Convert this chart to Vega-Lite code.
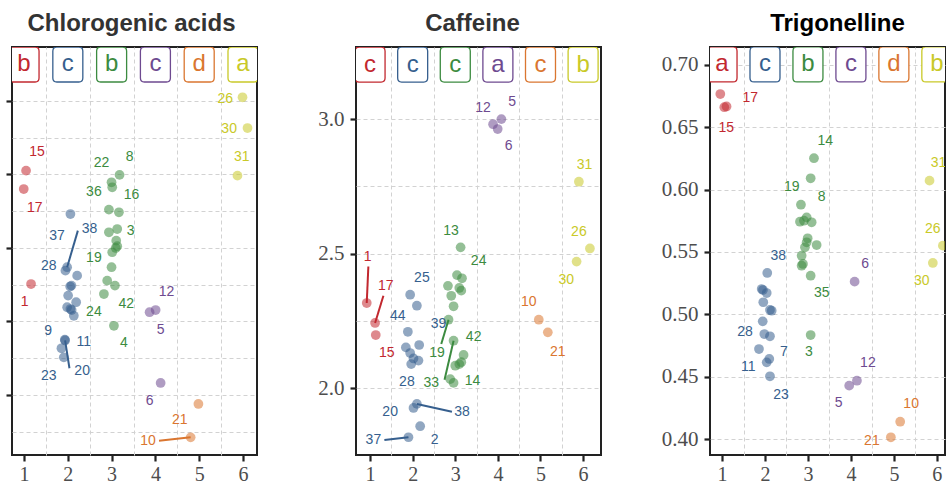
{
  "$schema": "https://vega.github.io/schema/vega-lite/v6.json",
  "background": "white",
  "padding": {"left": 3, "top": 11, "right": 0, "bottom": 0},
  "spacing": 58,
  "datasets": {
    "pts": [
      {"p":1,"g":1,"x":1.046,"y":6.526,"id":"15","lx":1.297,"ly":6.653},
      {"p":1,"g":1,"x":0.993,"y":6.401,"id":"17","lx":1.245,"ly":6.272},
      {"p":1,"g":1,"x":1.160,"y":5.755,"id":"1","lx":1.016,"ly":5.633},
      {"p":1,"g":2,"x":2.059,"y":6.231,"id":"37","lx":1.755,"ly":6.080},
      {"p":1,"g":2,"x":1.984,"y":5.869,"id":"38","lx":2.494,"ly":6.129,"sx":2.229,"sy":6.118},
      {"p":1,"g":2,"x":1.945,"y":5.846,"id":"28","lx":1.565,"ly":5.876},
      {"p":1,"g":2,"x":2.213,"y":5.812},
      {"p":1,"g":2,"x":2.082,"y":5.744},
      {"p":1,"g":2,"x":2.053,"y":5.738},
      {"p":1,"g":2,"x":2.007,"y":5.676},
      {"p":1,"g":2,"x":2.190,"y":5.631},
      {"p":1,"g":2,"x":1.984,"y":5.597},
      {"p":1,"g":2,"x":2.059,"y":5.585},
      {"p":1,"g":2,"x":2.087,"y":5.578},
      {"p":1,"g":2,"x":2.137,"y":5.539},
      {"p":1,"g":2,"x":1.931,"y":5.376,"id":"11","lx":2.366,"ly":5.358},
      {"p":1,"g":2,"x":1.938,"y":5.371,"id":"20","lx":2.327,"ly":5.165,"sx":2.037,"sy":5.182},
      {"p":1,"g":2,"x":1.854,"y":5.318,"id":"9","lx":1.549,"ly":5.437},
      {"p":1,"g":2,"x":1.908,"y":5.256,"id":"23","lx":1.565,"ly":5.131},
      {"p":1,"g":3,"x":3.181,"y":6.497,"id":"8","lx":3.410,"ly":6.617},
      {"p":1,"g":3,"x":2.998,"y":6.447,"id":"22","lx":2.769,"ly":6.578},
      {"p":1,"g":3,"x":3.014,"y":6.413,"id":"36","lx":2.595,"ly":6.379},
      {"p":1,"g":3,"x":2.938,"y":6.261},
      {"p":1,"g":3,"x":3.167,"y":6.243,"id":"16","lx":3.455,"ly":6.361},
      {"p":1,"g":3,"x":3.128,"y":6.129,"id":"3","lx":3.432,"ly":6.118},
      {"p":1,"g":3,"x":2.938,"y":6.107},
      {"p":1,"g":3,"x":3.105,"y":6.050},
      {"p":1,"g":3,"x":3.128,"y":6.012},
      {"p":1,"g":3,"x":3.094,"y":6.000},
      {"p":1,"g":3,"x":3.014,"y":5.971,"id":"19","lx":2.595,"ly":5.930},
      {"p":1,"g":3,"x":2.998,"y":5.869},
      {"p":1,"g":3,"x":2.899,"y":5.778},
      {"p":1,"g":3,"x":3.076,"y":5.744,"id":"42","lx":3.334,"ly":5.619},
      {"p":1,"g":3,"x":2.824,"y":5.687,"id":"24","lx":2.595,"ly":5.563},
      {"p":1,"g":3,"x":3.053,"y":5.471,"id":"4","lx":3.281,"ly":5.354},
      {"p":1,"g":4,"x":4.005,"y":5.578,"id":"12","lx":4.256,"ly":5.699},
      {"p":1,"g":4,"x":3.867,"y":5.563,"id":"5","lx":4.119,"ly":5.442},
      {"p":1,"g":4,"x":4.119,"y":5.082,"id":"6","lx":3.867,"ly":4.961},
      {"p":1,"g":5,"x":4.982,"y":4.939,"id":"21","lx":4.554,"ly":4.830},
      {"p":1,"g":5,"x":4.805,"y":4.712,"id":"10","lx":3.831,"ly":4.689,"sx":4.082,"sy":4.689},
      {"p":1,"g":6,"x":5.989,"y":7.025,"id":"26","lx":5.593,"ly":7.014},
      {"p":1,"g":6,"x":6.103,"y":6.816,"id":"30","lx":5.684,"ly":6.810},
      {"p":1,"g":6,"x":5.874,"y":6.492,"id":"31","lx":5.973,"ly":6.617},

      {"p":2,"g":1,"x":0.922,"y":2.316,"id":"1","lx":0.946,"ly":2.486,"sx":0.960,"sy":2.452},
      {"p":2,"g":1,"x":1.118,"y":2.242,"id":"17","lx":1.369,"ly":2.378,"sx":1.313,"sy":2.343},
      {"p":2,"g":1,"x":1.134,"y":2.197,"id":"15","lx":1.393,"ly":2.130},
      {"p":2,"g":2,"x":1.941,"y":2.347,"id":"25","lx":2.216,"ly":2.408},
      {"p":2,"g":2,"x":2.099,"y":2.306},
      {"p":2,"g":2,"x":1.887,"y":2.209,"id":"44","lx":1.652,"ly":2.267},
      {"p":2,"g":2,"x":2.153,"y":2.160,"id":"39","lx":2.607,"ly":2.238},
      {"p":2,"g":2,"x":1.840,"y":2.151},
      {"p":2,"g":2,"x":1.941,"y":2.130},
      {"p":2,"g":2,"x":2.019,"y":2.110},
      {"p":2,"g":2,"x":1.965,"y":2.089,"id":"28","lx":1.864,"ly":2.021},
      {"p":2,"g":2,"x":2.136,"y":2.102},
      {"p":2,"g":2,"x":2.099,"y":1.941,"id":"38","lx":3.158,"ly":1.912,"sx":2.922,"sy":1.912},
      {"p":2,"g":2,"x":2.019,"y":1.926,"id":"20","lx":1.471,"ly":1.912},
      {"p":2,"g":2,"x":2.176,"y":1.858,"id":"2","lx":2.513,"ly":1.808},
      {"p":2,"g":2,"x":1.901,"y":1.817,"id":"37","lx":1.078,"ly":1.808,"sx":1.336,"sy":1.807},
      {"p":2,"g":3,"x":3.125,"y":2.523,"id":"13","lx":2.899,"ly":2.585},
      {"p":2,"g":3,"x":3.040,"y":2.420},
      {"p":2,"g":3,"x":3.158,"y":2.408,"id":"24","lx":3.548,"ly":2.473},
      {"p":2,"g":3,"x":2.828,"y":2.380},
      {"p":2,"g":3,"x":3.141,"y":2.362},
      {"p":2,"g":3,"x":3.094,"y":2.372},
      {"p":2,"g":3,"x":2.906,"y":2.343},
      {"p":2,"g":3,"x":2.960,"y":2.304},
      {"p":2,"g":3,"x":2.842,"y":2.254,"id":"19","lx":2.569,"ly":2.130,"sx":2.671,"sy":2.164},
      {"p":2,"g":3,"x":2.960,"y":2.176,"id":"33","lx":2.435,"ly":2.019,"sx":2.748,"sy":2.031},
      {"p":2,"g":3,"x":3.195,"y":2.123,"id":"42","lx":3.431,"ly":2.188},
      {"p":2,"g":3,"x":3.141,"y":2.096},
      {"p":2,"g":3,"x":3.094,"y":2.089},
      {"p":2,"g":3,"x":3.000,"y":2.083},
      {"p":2,"g":3,"x":2.882,"y":2.033},
      {"p":2,"g":3,"x":2.960,"y":2.019,"id":"14","lx":3.407,"ly":2.027},
      {"p":2,"g":4,"x":3.887,"y":2.981,"id":"12","lx":3.652,"ly":3.043},
      {"p":2,"g":4,"x":4.082,"y":3.000,"id":"5","lx":4.334,"ly":3.064},
      {"p":2,"g":4,"x":3.995,"y":2.963,"id":"6","lx":4.254,"ly":2.901},
      {"p":2,"g":5,"x":4.960,"y":2.254,"id":"10","lx":4.725,"ly":2.319},
      {"p":2,"g":5,"x":5.172,"y":2.207,"id":"21","lx":5.407,"ly":2.135},
      {"p":2,"g":6,"x":5.901,"y":2.767,"id":"31","lx":6.035,"ly":2.829},
      {"p":2,"g":6,"x":6.160,"y":2.519,"id":"26","lx":5.901,"ly":2.581},
      {"p":2,"g":6,"x":5.847,"y":2.470,"id":"30","lx":5.605,"ly":2.403},

      {"p":3,"g":1,"x":0.960,"y":0.6767,"id":"17","lx":1.658,"ly":0.6733},
      {"p":3,"g":1,"x":1.053,"y":0.6661,"id":"15","lx":1.100,"ly":0.6492},
      {"p":3,"g":1,"x":1.105,"y":0.6667},
      {"p":3,"g":2,"x":2.053,"y":0.5332,"id":"38","lx":2.309,"ly":0.5470},
      {"p":3,"g":2,"x":1.923,"y":0.5203},
      {"p":3,"g":2,"x":1.953,"y":0.5195},
      {"p":3,"g":2,"x":2.040,"y":0.5171},
      {"p":3,"g":2,"x":1.960,"y":0.5097},
      {"p":3,"g":2,"x":2.156,"y":0.5029},
      {"p":3,"g":2,"x":2.116,"y":0.5035},
      {"p":3,"g":2,"x":1.947,"y":0.4944},
      {"p":3,"g":2,"x":1.984,"y":0.4842,"id":"28","lx":1.535,"ly":0.4861},
      {"p":3,"g":2,"x":2.116,"y":0.4824},
      {"p":3,"g":2,"x":1.860,"y":0.4722,"id":"11","lx":1.612,"ly":0.4575},
      {"p":3,"g":2,"x":2.100,"y":0.4642,"id":"7","lx":2.442,"ly":0.4700},
      {"p":3,"g":2,"x":2.040,"y":0.4615},
      {"p":3,"g":2,"x":2.116,"y":0.4503,"id":"23","lx":2.372,"ly":0.4353},
      {"p":3,"g":3,"x":3.140,"y":0.6252,"id":"14","lx":3.402,"ly":0.6393},
      {"p":3,"g":3,"x":3.063,"y":0.6091,"id":"8","lx":3.319,"ly":0.5939},
      {"p":3,"g":3,"x":2.837,"y":0.5879,"id":"19","lx":2.621,"ly":0.6019},
      {"p":3,"g":3,"x":2.814,"y":0.5743},
      {"p":3,"g":3,"x":2.970,"y":0.5778},
      {"p":3,"g":3,"x":2.907,"y":0.5751},
      {"p":3,"g":3,"x":3.086,"y":0.5738},
      {"p":3,"g":3,"x":2.993,"y":0.5610},
      {"p":3,"g":3,"x":2.970,"y":0.5578},
      {"p":3,"g":3,"x":3.202,"y":0.5556},
      {"p":3,"g":3,"x":2.930,"y":0.5538},
      {"p":3,"g":3,"x":2.853,"y":0.5470},
      {"p":3,"g":3,"x":2.853,"y":0.5390},
      {"p":3,"g":3,"x":2.884,"y":0.5404},
      {"p":3,"g":3,"x":3.063,"y":0.5310,"id":"35","lx":3.319,"ly":0.5171},
      {"p":3,"g":3,"x":3.063,"y":0.4834,"id":"3","lx":3.023,"ly":0.4696},
      {"p":3,"g":4,"x":4.086,"y":0.5262,"id":"6","lx":4.333,"ly":0.5404},
      {"p":3,"g":4,"x":4.140,"y":0.4468,"id":"12","lx":4.395,"ly":0.4610},
      {"p":3,"g":4,"x":3.960,"y":0.4428,"id":"5","lx":3.714,"ly":0.4289},
      {"p":3,"g":5,"x":5.147,"y":0.4139,"id":"10","lx":5.402,"ly":0.4281},
      {"p":3,"g":5,"x":4.930,"y":0.4014,"id":"21","lx":4.488,"ly":0.3986},
      {"p":3,"g":6,"x":5.830,"y":0.6072,"id":"31","lx":6.040,"ly":0.6214},
      {"p":3,"g":6,"x":6.140,"y":0.5551,"id":"26","lx":5.907,"ly":0.5685},
      {"p":3,"g":6,"x":5.907,"y":0.5412,"id":"30","lx":5.651,"ly":0.5270}
    ],
    "letters": [
      {"p":1,"g":1,"letter":"b"},{"p":1,"g":2,"letter":"c"},{"p":1,"g":3,"letter":"b"},
      {"p":1,"g":4,"letter":"c"},{"p":1,"g":5,"letter":"d"},{"p":1,"g":6,"letter":"a"},
      {"p":2,"g":1,"letter":"c"},{"p":2,"g":2,"letter":"c"},{"p":2,"g":3,"letter":"c"},
      {"p":2,"g":4,"letter":"a"},{"p":2,"g":5,"letter":"c"},{"p":2,"g":6,"letter":"b"},
      {"p":3,"g":1,"letter":"a"},{"p":3,"g":2,"letter":"c"},{"p":3,"g":3,"letter":"b"},
      {"p":3,"g":4,"letter":"c"},{"p":3,"g":5,"letter":"d"},{"p":3,"g":6,"letter":"b"}
    ]
  },
  "hconcat": [
    {
      "width": 245, "height": 408,
      "title": {"text": "Chlorogenic acids", "color": "#333333", "dx": -3},
      "resolve": {"axis": {"x": "independent"}},
      "layer": [
        {"data": {"name": "pts"},
         "transform": [{"filter": "datum.p === 1 && isValid(datum.sx)"}],
         "mark": {"type": "rule", "strokeWidth": 2, "clip": true},
         "encoding": {
           "x": {"field": "x", "type": "quantitative", "scale": {"domain": [0.725, 6.32], "nice": false, "zero": false},
                 "axis": {"title": null, "orient": "bottom", "grid": false, "values": [1,2,3,4,5,6], "format": "d", "labelOverlap": false, "labelFlush": false}},
           "y": {"field": "y", "type": "quantitative", "scale": {"domain": [4.592, 7.367], "nice": false, "zero": false},
                 "axis": {"title": null, "labels": false, "values": [4.75,5,5.25,5.5,5.75,6,6.25,6.5,6.75,7],
                          "tickOpacity": {"condition": {"test": "round(datum.value*4) % 2 !== 0", "value": 0}, "value": 1}}},
           "x2": {"field": "sx"}, "y2": {"field": "sy"},
           "color": {"field": "g", "type": "nominal", "scale": {"domain": [1,2,3,4,5,6], "range": ["#C2282F","#365F8E","#3C8B40","#6E4A90","#DA7630","#C9C928"]}, "legend": null}
         }},
        {"data": {"name": "pts"},
         "transform": [{"filter": "datum.p === 1"}],
         "mark": {"type": "circle", "size": 95, "opacity": 0.55, "clip": true},
         "encoding": {
           "x": {"field": "x", "type": "quantitative",
                 "axis": {"title": null, "orient": "top", "grid": true, "labels": false, "ticks": false, "domain": false, "values": [1.5,2.5,3.5,4.5,5.5]}},
           "y": {"field": "y", "type": "quantitative"},
           "color": {"field": "g", "type": "nominal"}
         }},
        {"data": {"name": "pts"},
         "transform": [{"filter": "datum.p === 1 && isValid(datum.id)"}],
         "mark": {"type": "text", "fontSize": 14, "font": "Liberation Sans", "align": "center", "baseline": "middle", "clip": true},
         "encoding": {
           "x": {"field": "lx", "type": "quantitative", "axis": null},
           "y": {"field": "ly", "type": "quantitative"},
           "text": {"field": "id"},
           "color": {"field": "g", "type": "nominal"}
         }},
        {"data": {"name": "letters"},
         "transform": [{"filter": "datum.p === 1"}],
         "mark": {"type": "point", "shape": "M-0.857,-0.771Q-0.857,-1,-0.629,-1L0.629,-1Q0.857,-1,0.857,-0.771L0.857,0.771Q0.857,1,0.629,1L-0.629,1Q-0.857,1,-0.857,0.771Z", "size": 1225, "filled": true, "fill": "white", "strokeWidth": 1.3, "opacity": 1, "clip": true},
         "encoding": {
           "x": {"field": "g", "type": "quantitative", "axis": null},
           "y": {"datum": 7.248, "type": "quantitative"},
           "stroke": {"field": "g", "type": "nominal", "scale": {"domain": [1,2,3,4,5,6], "range": ["#C2282F","#365F8E","#3C8B40","#6E4A90","#DA7630","#C9C928"]}, "legend": null}
         }},
        {"data": {"name": "letters"},
         "transform": [{"filter": "datum.p === 1"}],
         "mark": {"type": "text", "fontSize": 24, "font": "Liberation Sans", "align": "center", "baseline": "middle", "clip": true},
         "encoding": {
           "x": {"field": "g", "type": "quantitative", "axis": null},
           "y": {"datum": 7.248, "type": "quantitative"},
           "text": {"field": "letter"},
           "color": {"field": "g", "type": "nominal"}
         }}
      ]
    },
    {
      "width": 245, "height": 408,
      "title": {"text": "Caffeine", "color": "#333333", "dx": -6},
      "resolve": {"axis": {"x": "independent"}},
      "layer": [
        {"data": {"name": "pts"},
         "transform": [{"filter": "datum.p === 2 && isValid(datum.sx)"}],
         "mark": {"type": "rule", "strokeWidth": 2, "clip": true},
         "encoding": {
           "x": {"field": "x", "type": "quantitative", "scale": {"domain": [0.67, 6.42], "nice": false, "zero": false},
                 "axis": {"title": null, "orient": "bottom", "grid": false, "values": [1,2,3,4,5,6], "format": "d", "labelOverlap": false, "labelFlush": false}},
           "y": {"field": "y", "type": "quantitative", "scale": {"domain": [1.751, 3.268], "nice": false, "zero": false},
                 "axis": {"title": null, "values": [2,2.25,2.5,2.75,3], "labelOverlap": false, "labelFlush": false,
                          "labelExpr": "round(datum.value*4) % 2 === 0 ? format(datum.value, '.1f') : ''",
                          "tickOpacity": {"condition": {"test": "round(datum.value*4) % 2 !== 0", "value": 0}, "value": 1}}},
           "x2": {"field": "sx"}, "y2": {"field": "sy"},
           "color": {"field": "g", "type": "nominal", "scale": {"domain": [1,2,3,4,5,6], "range": ["#C2282F","#365F8E","#3C8B40","#6E4A90","#DA7630","#C9C928"]}, "legend": null}
         }},
        {"data": {"name": "pts"},
         "transform": [{"filter": "datum.p === 2"}],
         "mark": {"type": "circle", "size": 95, "opacity": 0.55, "clip": true},
         "encoding": {
           "x": {"field": "x", "type": "quantitative",
                 "axis": {"title": null, "orient": "top", "grid": true, "labels": false, "ticks": false, "domain": false, "values": [1.5,2.5,3.5,4.5,5.5]}},
           "y": {"field": "y", "type": "quantitative"},
           "color": {"field": "g", "type": "nominal"}
         }},
        {"data": {"name": "pts"},
         "transform": [{"filter": "datum.p === 2 && isValid(datum.id)"}],
         "mark": {"type": "text", "fontSize": 14, "font": "Liberation Sans", "align": "center", "baseline": "middle", "clip": true},
         "encoding": {
           "x": {"field": "lx", "type": "quantitative", "axis": null},
           "y": {"field": "ly", "type": "quantitative"},
           "text": {"field": "id"},
           "color": {"field": "g", "type": "nominal"}
         }},
        {"data": {"name": "letters"},
         "transform": [{"filter": "datum.p === 2"}],
         "mark": {"type": "point", "shape": "M-0.857,-0.771Q-0.857,-1,-0.629,-1L0.629,-1Q0.857,-1,0.857,-0.771L0.857,0.771Q0.857,1,0.629,1L-0.629,1Q-0.857,1,-0.857,0.771Z", "size": 1225, "filled": true, "fill": "white", "strokeWidth": 1.3, "opacity": 1, "clip": true},
         "encoding": {
           "x": {"field": "g", "type": "quantitative", "axis": null},
           "y": {"datum": 3.2026, "type": "quantitative"},
           "stroke": {"field": "g", "type": "nominal", "scale": {"domain": [1,2,3,4,5,6], "range": ["#C2282F","#365F8E","#3C8B40","#6E4A90","#DA7630","#C9C928"]}, "legend": null}
         }},
        {"data": {"name": "letters"},
         "transform": [{"filter": "datum.p === 2"}],
         "mark": {"type": "text", "fontSize": 24, "font": "Liberation Sans", "align": "center", "baseline": "middle", "clip": true},
         "encoding": {
           "x": {"field": "g", "type": "quantitative", "axis": null},
           "y": {"datum": 3.2026, "type": "quantitative"},
           "text": {"field": "letter"},
           "color": {"field": "g", "type": "nominal"}
         }}
      ]
    },
    {
      "width": 235, "height": 408,
      "title": {"text": "Trigonelline", "color": "#000000", "dx": 10},
      "resolve": {"axis": {"x": "independent"}},
      "layer": [
        {"data": {"name": "pts"},
         "transform": [{"filter": "datum.p === 3 && isValid(datum.sx)"}],
         "mark": {"type": "rule", "strokeWidth": 2, "clip": true},
         "encoding": {
           "x": {"field": "x", "type": "quantitative", "scale": {"domain": [0.72, 6.19], "nice": false, "zero": false},
                 "axis": {"title": null, "orient": "bottom", "grid": false, "values": [1,2,3,4,5,6], "format": "d", "labelOverlap": false, "labelFlush": false}},
           "y": {"field": "y", "type": "quantitative", "scale": {"domain": [0.3872, 0.7144], "nice": false, "zero": false},
                 "axis": {"title": null, "values": [0.4,0.425,0.45,0.475,0.5,0.525,0.55,0.575,0.6,0.625,0.65,0.675,0.7], "labelOverlap": false, "labelFlush": false,
                          "labelExpr": "round(datum.value*40) % 2 === 0 ? format(datum.value, '.2f') : ''",
                          "tickOpacity": {"condition": {"test": "round(datum.value*40) % 2 !== 0", "value": 0}, "value": 1}}},
           "x2": {"field": "sx"}, "y2": {"field": "sy"},
           "color": {"field": "g", "type": "nominal", "scale": {"domain": [1,2,3,4,5,6], "range": ["#C2282F","#365F8E","#3C8B40","#6E4A90","#DA7630","#C9C928"]}, "legend": null}
         }},
        {"data": {"name": "pts"},
         "transform": [{"filter": "datum.p === 3"}],
         "mark": {"type": "circle", "size": 95, "opacity": 0.55, "clip": true},
         "encoding": {
           "x": {"field": "x", "type": "quantitative",
                 "axis": {"title": null, "orient": "top", "grid": true, "labels": false, "ticks": false, "domain": false, "values": [1.5,2.5,3.5,4.5,5.5]}},
           "y": {"field": "y", "type": "quantitative"},
           "color": {"field": "g", "type": "nominal"}
         }},
        {"data": {"name": "pts"},
         "transform": [{"filter": "datum.p === 3 && isValid(datum.id)"}],
         "mark": {"type": "text", "fontSize": 14, "font": "Liberation Sans", "align": "center", "baseline": "middle", "clip": true},
         "encoding": {
           "x": {"field": "lx", "type": "quantitative", "axis": null},
           "y": {"field": "ly", "type": "quantitative"},
           "text": {"field": "id"},
           "color": {"field": "g", "type": "nominal"}
         }},
        {"data": {"name": "letters"},
         "transform": [{"filter": "datum.p === 3"}],
         "mark": {"type": "point", "shape": "M-0.857,-0.771Q-0.857,-1,-0.629,-1L0.629,-1Q0.857,-1,0.857,-0.771L0.857,0.771Q0.857,1,0.629,1L-0.629,1Q-0.857,1,-0.857,0.771Z", "size": 1225, "filled": true, "fill": "white", "strokeWidth": 1.3, "opacity": 1, "clip": true},
         "encoding": {
           "x": {"field": "g", "type": "quantitative", "axis": null},
           "y": {"datum": 0.7004, "type": "quantitative"},
           "stroke": {"field": "g", "type": "nominal", "scale": {"domain": [1,2,3,4,5,6], "range": ["#C2282F","#365F8E","#3C8B40","#6E4A90","#DA7630","#C9C928"]}, "legend": null}
         }},
        {"data": {"name": "letters"},
         "transform": [{"filter": "datum.p === 3"}],
         "mark": {"type": "text", "fontSize": 24, "font": "Liberation Sans", "align": "center", "baseline": "middle", "clip": true},
         "encoding": {
           "x": {"field": "g", "type": "quantitative", "axis": null},
           "y": {"datum": 0.7004, "type": "quantitative"},
           "text": {"field": "letter"},
           "color": {"field": "g", "type": "nominal"}
         }}
      ]
    }
  ],
  "config": {
    "view": {"stroke": "#222222", "strokeWidth": 2},
    "axis": {"domain": false, "grid": true, "gridColor": "#d2d2d2", "gridDash": [4, 3], "gridWidth": 1,
             "tickColor": "#222222", "tickWidth": 2.2, "tickSize": 6,
             "labelFont": "Liberation Serif", "labelFontSize": 21, "labelColor": "#4d4d4d", "labelPadding": 6},
    "axisX": {"labelPadding": 3, "labelFontSize": 20},
    "title": {"font": "Liberation Sans", "fontWeight": "bold", "fontSize": 24, "frame": "group", "anchor": "middle", "offset": 11}
  }
}
